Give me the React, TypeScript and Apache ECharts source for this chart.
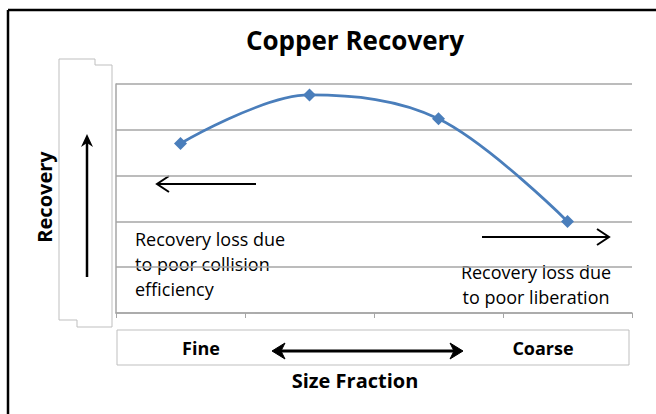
import React, { useEffect, useRef } from "react";
import * as echarts from "echarts";

const categories = ["c1", "c2", "c3", "c4"];
const recovery = [3.7, 4.76, 4.24, 2.0];
const yTicks = { min: 0, max: 5, interval: 1 };
const titleText = "Copper Recovery";
const yName = "Recovery";
const xName = "Size Fraction";
const sizeLabels = ["Fine", "Coarse"];
const noteLeft = "Recovery loss due\nto poor collision\nefficiency";
const noteRight = "Recovery loss due\nto poor liberation";

const FONT = "Open Sans";
const GREY = "#BFBFBF";

export default function App() {
  const ref = useRef<HTMLDivElement>(null);
  useEffect(() => {
    document.body.style.margin = "0";
    const chart = echarts.init(ref.current!, null, { renderer: "svg" });
    chart.setOption({
      animation: false,
      backgroundColor: "#ffffff",
      title: {
        text: titleText,
        left: 350,
        top: 22,
        textAlign: "center",
        textStyle: { fontFamily: FONT, fontSize: 26, fontWeight: "bold", color: "#000" },
      },
      grid: { left: 116, right: 24, top: 84, bottom: 101 },
      xAxis: {
        type: "category",
        data: categories,
        boundaryGap: true,
        axisLine: { lineStyle: { color: "#A6A6A6", width: 1.5 } },
        axisTick: { show: true, length: 5, lineStyle: { color: "#A6A6A6" } },
        axisLabel: { show: false },
      },
      yAxis: {
        type: "value",
        min: yTicks.min,
        max: yTicks.max,
        interval: yTicks.interval,
        axisLine: { show: true, lineStyle: { color: "#A6A6A6", width: 1.5 } },
        axisTick: { show: false },
        axisLabel: { show: false },
        splitLine: { lineStyle: { color: "#A6A6A6", width: 1.5 } },
      },
      series: [
        {
          type: "line",
          data: recovery,
          smooth: 0.35,
          symbol: "diamond",
          symbolSize: 13,
          lineStyle: { color: "#4A7EBB", width: 2.75 },
          itemStyle: { color: "#4A7EBB" },
        },
      ],
      graphic: [
        // outer frame
        { type: "line", shape: { x1: 8, y1: 10, x2: 656, y2: 10 }, style: { stroke: "#000", lineWidth: 2.5 } },
        { type: "line", shape: { x1: 8, y1: 10, x2: 8, y2: 414 }, style: { stroke: "#000", lineWidth: 2.5 } },
        // y-axis title box
        {
          type: "polygon",
          shape: { points: [[59, 59], [95, 59], [95, 65], [112, 65], [112, 327], [77, 327], [77, 320], [59, 320]] },
          style: { fill: "none", stroke: GREY, lineWidth: 1 },
        },
        {
          type: "text",
          x: 44,
          y: 197,
          rotation: Math.PI / 2,
          style: { text: yName, fontFamily: FONT, fontSize: 20, fontWeight: "bold", fill: "#000", align: "center", verticalAlign: "middle" },
        },
        // vertical arrow
        { type: "line", shape: { x1: 87, y1: 277, x2: 87, y2: 140 }, style: { stroke: "#000", lineWidth: 2.5 } },
        { type: "polygon", shape: { points: [[81, 147], [87, 134], [93, 147], [87, 143]] }, style: { fill: "#000" } },
        // left arrow
        { type: "line", shape: { x1: 157, y1: 184, x2: 256, y2: 184 }, style: { stroke: "#000", lineWidth: 2 } },
        { type: "polyline", shape: { points: [[169, 176], [157, 184], [169, 192]] }, style: { stroke: "#000", lineWidth: 2, fill: "none" } },
        // right arrow
        { type: "line", shape: { x1: 482, y1: 237, x2: 609, y2: 237 }, style: { stroke: "#000", lineWidth: 2 } },
        { type: "polyline", shape: { points: [[597, 229], [609, 237], [597, 245]] }, style: { stroke: "#000", lineWidth: 2, fill: "none" } },
        // notes
        {
          type: "text",
          x: 135,
          y: 226,
          style: { text: noteLeft, fontFamily: FONT, fontSize: 18, lineHeight: 25, fill: "#000", align: "left", verticalAlign: "top" },
        },
        {
          type: "text",
          x: 536,
          y: 259,
          style: { text: noteRight, fontFamily: FONT, fontSize: 18, lineHeight: 25, fill: "#000", align: "center", verticalAlign: "top" },
        },
        // size fraction box
        { type: "rect", shape: { x: 117, y: 330, width: 512, height: 35 }, style: { fill: "none", stroke: GREY, lineWidth: 1 } },
        {
          type: "text",
          x: 201,
          y: 348,
          style: { text: sizeLabels[0], fontFamily: FONT, fontSize: 18, fontWeight: "bold", fill: "#000", align: "center", verticalAlign: "middle" },
        },
        {
          type: "text",
          x: 543,
          y: 348,
          style: { text: sizeLabels[1], fontFamily: FONT, fontSize: 18, fontWeight: "bold", fill: "#000", align: "center", verticalAlign: "middle" },
        },
        // double arrow
        { type: "line", shape: { x1: 278, y1: 351, x2: 457, y2: 351 }, style: { stroke: "#000", lineWidth: 3 } },
        { type: "polygon", shape: { points: [[285, 343], [272, 351], [285, 359], [281, 351]] }, style: { fill: "#000", stroke: "#000", lineWidth: 1 } },
        { type: "polygon", shape: { points: [[450, 343], [463, 351], [450, 359], [454, 351]] }, style: { fill: "#000", stroke: "#000", lineWidth: 1 } },
        {
          type: "text",
          x: 355,
          y: 380,
          style: { text: xName, fontFamily: FONT, fontSize: 20, fontWeight: "bold", fill: "#000", align: "center", verticalAlign: "middle" },
        },
      ],
    });
    return () => chart.dispose();
  }, []);
  return <div ref={ref} style={{ width: 656, height: 414 }} />;
}
